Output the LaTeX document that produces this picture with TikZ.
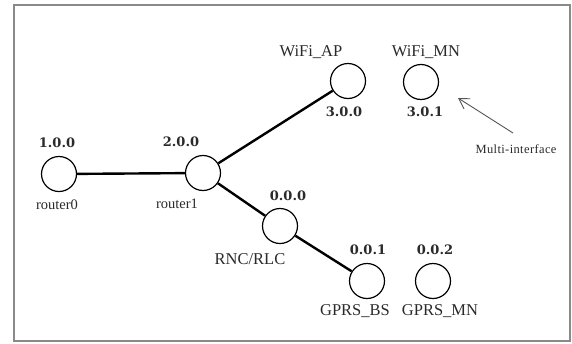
\documentclass[tikz,border=0pt]{standalone}
\usepackage{fontspec}
\setmainfont{Liberation Serif}
\newfontfamily\numfont{DejaVu Serif}
\newfontfamily\smallfont{Liberation Serif}[LetterSpace=3]
\usetikzlibrary{arrows.meta}
\definecolor{framegray}{HTML}{8A8A8A}
\definecolor{txt}{HTML}{2A2A2A}
\begin{document}
\begin{tikzpicture}[x=1pt,y=-1pt,
  dev/.style={circle,draw=black,line width=1.2pt,minimum size=35pt,inner sep=0pt,fill=white},
  link/.style={line width=2.4pt,black},
  addr/.style={font=\numfont\bfseries\fontsize{13}{15}\selectfont,text=txt,inner sep=0pt},
  devlabel/.style={font=\fontsize{16.5}{18}\selectfont,text=txt,inner sep=0pt},
  rlabel/.style={font=\fontsize{14.5}{16}\selectfont,text=txt,inner sep=0pt},
  notelabel/.style={font=\smallfont\fontsize{12.5}{14}\selectfont,text=txt,inner sep=0pt}]
\useasboundingbox (0,0) rectangle (572,343);
\fill[white] (0,0) rectangle (572,343);
\draw[framegray,line width=2pt] (14,5) rectangle (570,341);
% devices
\node[dev] (r0) at (59,174) {};
\node[dev] (r1) at (203,173) {};
\node[dev] (rnc) at (280,226) {};
\node[dev] (ap) at (348,81) {};
\node[dev] (mn) at (421,82) {};
\node[dev] (bs) at (367,281) {};
\node[dev] (gmn) at (433,281) {};
% links
\draw[link] (r0) -- (r1);
\draw[link] (r1) -- (ap);
\draw[link] (r1) -- (rnc);
\draw[link] (rnc) -- (bs);
% addresses
\node[addr] (a0) at (57,143) {1.0.0};
\node[addr] (a1) at (181,142) {2.0.0};
\node[addr] (arnc) at (288,196) {0.0.0};
\node[addr] (aap) at (344,112) {3.0.0};
\node[addr] (amn) at (425,112) {3.0.1};
\node[addr] (abs) at (368,250) {0.0.1};
\node[addr] (agmn) at (435,250) {0.0.2};
% names
\node[rlabel] (n0) at (57,205) {router0};
\node[rlabel] (n1) at (177,204) {router1};
\node[devlabel] (nrnc) at (250,259) {RNC/RLC};
\node[devlabel] (nap) at (311,52) {WiFi\_AP};
\node[devlabel] (nmn) at (426,52) {WiFi\_MN};
\node[devlabel] (nbs) at (355,311) {GPRS\_BS};
\node[devlabel] (ngmn) at (440,311) {GPRS\_MN};
% note
\node[notelabel] (mi) at (516,149) {Multi-interface};
\coordinate (tail) at (513,133);
\coordinate (tip) at (458,98);
\draw[txt!80,line width=0.9pt,-{Straight Barb[length=10pt,width=12pt]}] (tail) -- (tip);
\end{tikzpicture}
\end{document}
